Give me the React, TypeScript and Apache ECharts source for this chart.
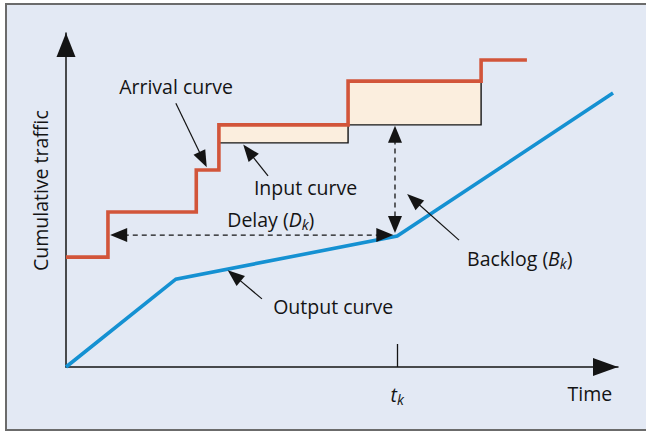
import React, { useEffect, useRef } from 'react';
import * as echarts from 'echarts';

// Arrival curve (red staircase): step times and levels
const arrivalTimes = [0, 7.6, 23.6, 27.7, 51.1, 75.2];
const arrivalLevels = [32.9, 46.4, 59.0, 72.5, 85.6, 91.9];
const arrivalEnd = 83.5;

// Input curve (black staircase, shaded blocks under arrival curve)
const inputStarts = [27.7, 51.1];
const inputEnds = [51.1, 75.2];
const inputLows = [67.1, 72.5];
const inputHighs = [72.5, 85.6];

// Output curve (blue)
const outputTimes = [0, 19.9, 60.0, 99.1];
const outputValues = [0, 26.3, 39.2, 82.0];

// x-axis tick
const tickValues = [60];
const tickLabels = ['{i|t}{s|k}'];

// Dashed double arrows: [x1, y1, x2, y2]
const delayArrow = [8.0, 39.5, 59.3, 39.5];
const backlogArrow = [59.6, 72.2, 59.6, 40.1];

// Pointer arrows: [fromX, fromY, tipX, tipY]
const arrivalPointer = [19.9, 79.0, 25.5, 59.8];
const inputPointer = [36.6, 57.2, 32.1, 66.6];
const backlogPointer = [71.2, 38.0, 61.8, 51.8];
const outputPointer = [35.5, 20.4, 29.3, 29.0];

// Annotation labels
const labelTexts = [
  '{n|Arrival curve}',
  '{n|Input curve}',
  '{n|Delay (}{i|D}{s|k}{n|)}',
  '{n|Backlog (}{i|B}{s|k}{n|)}',
  '{n|Output curve}',
  '{n|Time}',
];
const labelX = [19.93, 43.4, 37.1, 82.2, 48.4, 94.9];
const labelY = [84.3, 54.0, 44.5, 32.8, 18.3, -7.6];
const yTitle = 'Cumulative traffic';
const yTitlePos = [-4.6, 52.8];

const FONT = '"Open Sans", "Noto Sans", sans-serif';
const FS = 19.5;
const INK = '#141414';
const rich = {
  n: { fontSize: FS, fontFamily: FONT, color: INK, lineHeight: 20, verticalAlign: 'middle' },
  i: { fontSize: FS, fontFamily: FONT, fontStyle: 'italic', color: INK, lineHeight: 20, verticalAlign: 'middle' },
  s: { fontSize: 14, fontFamily: FONT, fontStyle: 'italic', color: INK, padding: [10, 0, 0, 0], verticalAlign: 'middle' },
};

function arrivalPoints() {
  const pts: number[][] = [];
  for (let k = 0; k < arrivalTimes.length; k++) {
    if (k > 0) pts.push([arrivalTimes[k], arrivalLevels[k - 1]]);
    pts.push([arrivalTimes[k], arrivalLevels[k]]);
  }
  pts.push([arrivalEnd, arrivalLevels[arrivalLevels.length - 1]]);
  return pts;
}

function makeArrow(api: any, both: boolean, dashed: boolean, L: number, W: number, lw: number) {
  const a = api.coord([api.value(0), api.value(1)]);
  const b = api.coord([api.value(2), api.value(3)]);
  const dx = b[0] - a[0];
  const dy = b[1] - a[1];
  const len = Math.hypot(dx, dy) || 1;
  const ux = dx / len;
  const uy = dy / len;
  const nx = -uy;
  const ny = ux;
  const head = (tx: number, ty: number, dirx: number, diry: number) => ({
    type: 'polygon',
    shape: {
      points: [
        [tx, ty],
        [tx - dirx * L + (nx * W) / 2, ty - diry * L + (ny * W) / 2],
        [tx - dirx * L - (nx * W) / 2, ty - diry * L - (ny * W) / 2],
      ],
    },
    style: { fill: INK },
  });
  const sx = both ? a[0] + ux * L * 0.8 : a[0];
  const sy = both ? a[1] + uy * L * 0.8 : a[1];
  const children: any[] = [
    {
      type: 'line',
      shape: { x1: sx, y1: sy, x2: b[0] - ux * L * 0.8, y2: b[1] - uy * L * 0.8 },
      style: { stroke: INK, lineWidth: lw, lineDash: dashed ? [5, 4] : null },
    },
    head(b[0], b[1], ux, uy),
  ];
  if (both) children.push(head(a[0], a[1], -ux, -uy));
  return { type: 'group', children };
}

export default function App() {
  const ref = useRef<HTMLDivElement>(null);
  useEffect(() => {
    if (!ref.current) return;
    const chart = echarts.init(ref.current, undefined, { renderer: 'svg' });
    const option: any = {
      animation: false,
      graphic: [
        {
          type: 'rect',
          z: -10,
          shape: { x: 6, y: 4, width: 660, height: 426 },
          style: { fill: '#e3e9f4', stroke: '#6b6b6b', lineWidth: 2 },
        },
      ],
      grid: { left: 66, top: 33, right: 28, bottom: 66, containLabel: false, outerBoundsMode: 'none' },
      xAxis: {
        type: 'value',
        min: 0,
        max: 100,
        splitLine: { show: false },
        axisLine: {
          show: true,
          onZero: false,
          symbol: ['none', 'triangle'],
          symbolSize: [18, 25],
          symbolOffset: [0, -12.5],
          lineStyle: { color: INK, width: 1.5 },
        },
        axisTick: {
          show: true,
          inside: true,
          length: 23,
          customValues: tickValues,
          lineStyle: { color: INK, width: 1.3 },
        },
        axisLabel: {
          show: true,
          customValues: tickValues,
          margin: 27,
          verticalAlign: 'middle',
          formatter: (v: number) => tickLabels[tickValues.indexOf(v)] || '',
          rich,
        },
      },
      yAxis: {
        type: 'value',
        min: 0,
        max: 100,
        splitLine: { show: false },
        axisTick: { show: false },
        axisLabel: { show: false },
        axisLine: {
          show: true,
          onZero: false,
          symbol: ['none', 'triangle'],
          symbolSize: [19, 24],
          symbolOffset: [0, -12],
          lineStyle: { color: INK, width: 1.5 },
        },
      },
      series: [
        {
          name: 'Input curve',
          type: 'custom',
          z: 2,
          data: inputStarts.map((s, i) => [s, inputLows[i], inputEnds[i], inputHighs[i]]),
          renderItem: (params: any, api: any) => {
            const p0 = api.coord([api.value(0), api.value(3)]);
            const p1 = api.coord([api.value(2), api.value(1)]);
            return {
              type: 'rect',
              shape: { x: p0[0], y: p0[1], width: p1[0] - p0[0], height: p1[1] - p0[1] },
              style: { fill: '#fbeede', stroke: INK, lineWidth: 1.4 },
            };
          },
        },
        {
          name: 'Arrival curve',
          type: 'line',
          z: 3,
          symbol: 'none',
          data: arrivalPoints(),
          lineStyle: { color: '#d2553a', width: 3.6, join: 'miter', cap: 'butt' },
        },
        {
          name: 'Output curve',
          type: 'line',
          z: 3,
          symbol: 'none',
          data: outputTimes.map((t, i) => [t, outputValues[i]]),
          lineStyle: { color: '#1591d2', width: 3.6, join: 'miter', cap: 'butt' },
        },
        {
          type: 'custom',
          z: 4,
          data: [delayArrow, backlogArrow],
          renderItem: (params: any, api: any) => makeArrow(api, true, true, 17, 14, 1.3),
        },
        {
          type: 'custom',
          z: 4,
          data: [arrivalPointer, inputPointer, backlogPointer, outputPointer],
          renderItem: (params: any, api: any) => makeArrow(api, false, false, 17, 13, 1.2),
        },
        {
          type: 'custom',
          z: 5,
          data: labelX.map((x, i) => [x, labelY[i], i]),
          renderItem: (params: any, api: any) => {
            const i = api.value(2);
            const p = api.coord([api.value(0), api.value(1)]);
            return {
              type: 'text',
              x: p[0],
              y: p[1] + 1,
              style: {
                text: labelTexts[i],
                rich,
                align: 'center',
                verticalAlign: 'middle',
                fill: INK,
                fontSize: FS,
                fontFamily: FONT,
              },
            };
          },
        },
        {
          type: 'custom',
          z: 5,
          data: [[yTitlePos[0], yTitlePos[1]]],
          renderItem: (params: any, api: any) => {
            const p = api.coord([api.value(0), api.value(1)]);
            return {
              type: 'text',
              x: p[0],
              y: p[1],
              rotation: Math.PI / 2,
              style: {
                text: yTitle,
                align: 'center',
                verticalAlign: 'middle',
                fill: INK,
                fontSize: FS,
                fontFamily: FONT,
              },
            };
          },
        },
      ],
    };
    chart.setOption(option);
    return () => chart.dispose();
  }, []);
  return (
    <div
      ref={ref}
      style={{ position: 'fixed', left: 0, top: 0, width: 646, height: 433, background: '#ffffff' }}
    />
  );
}
